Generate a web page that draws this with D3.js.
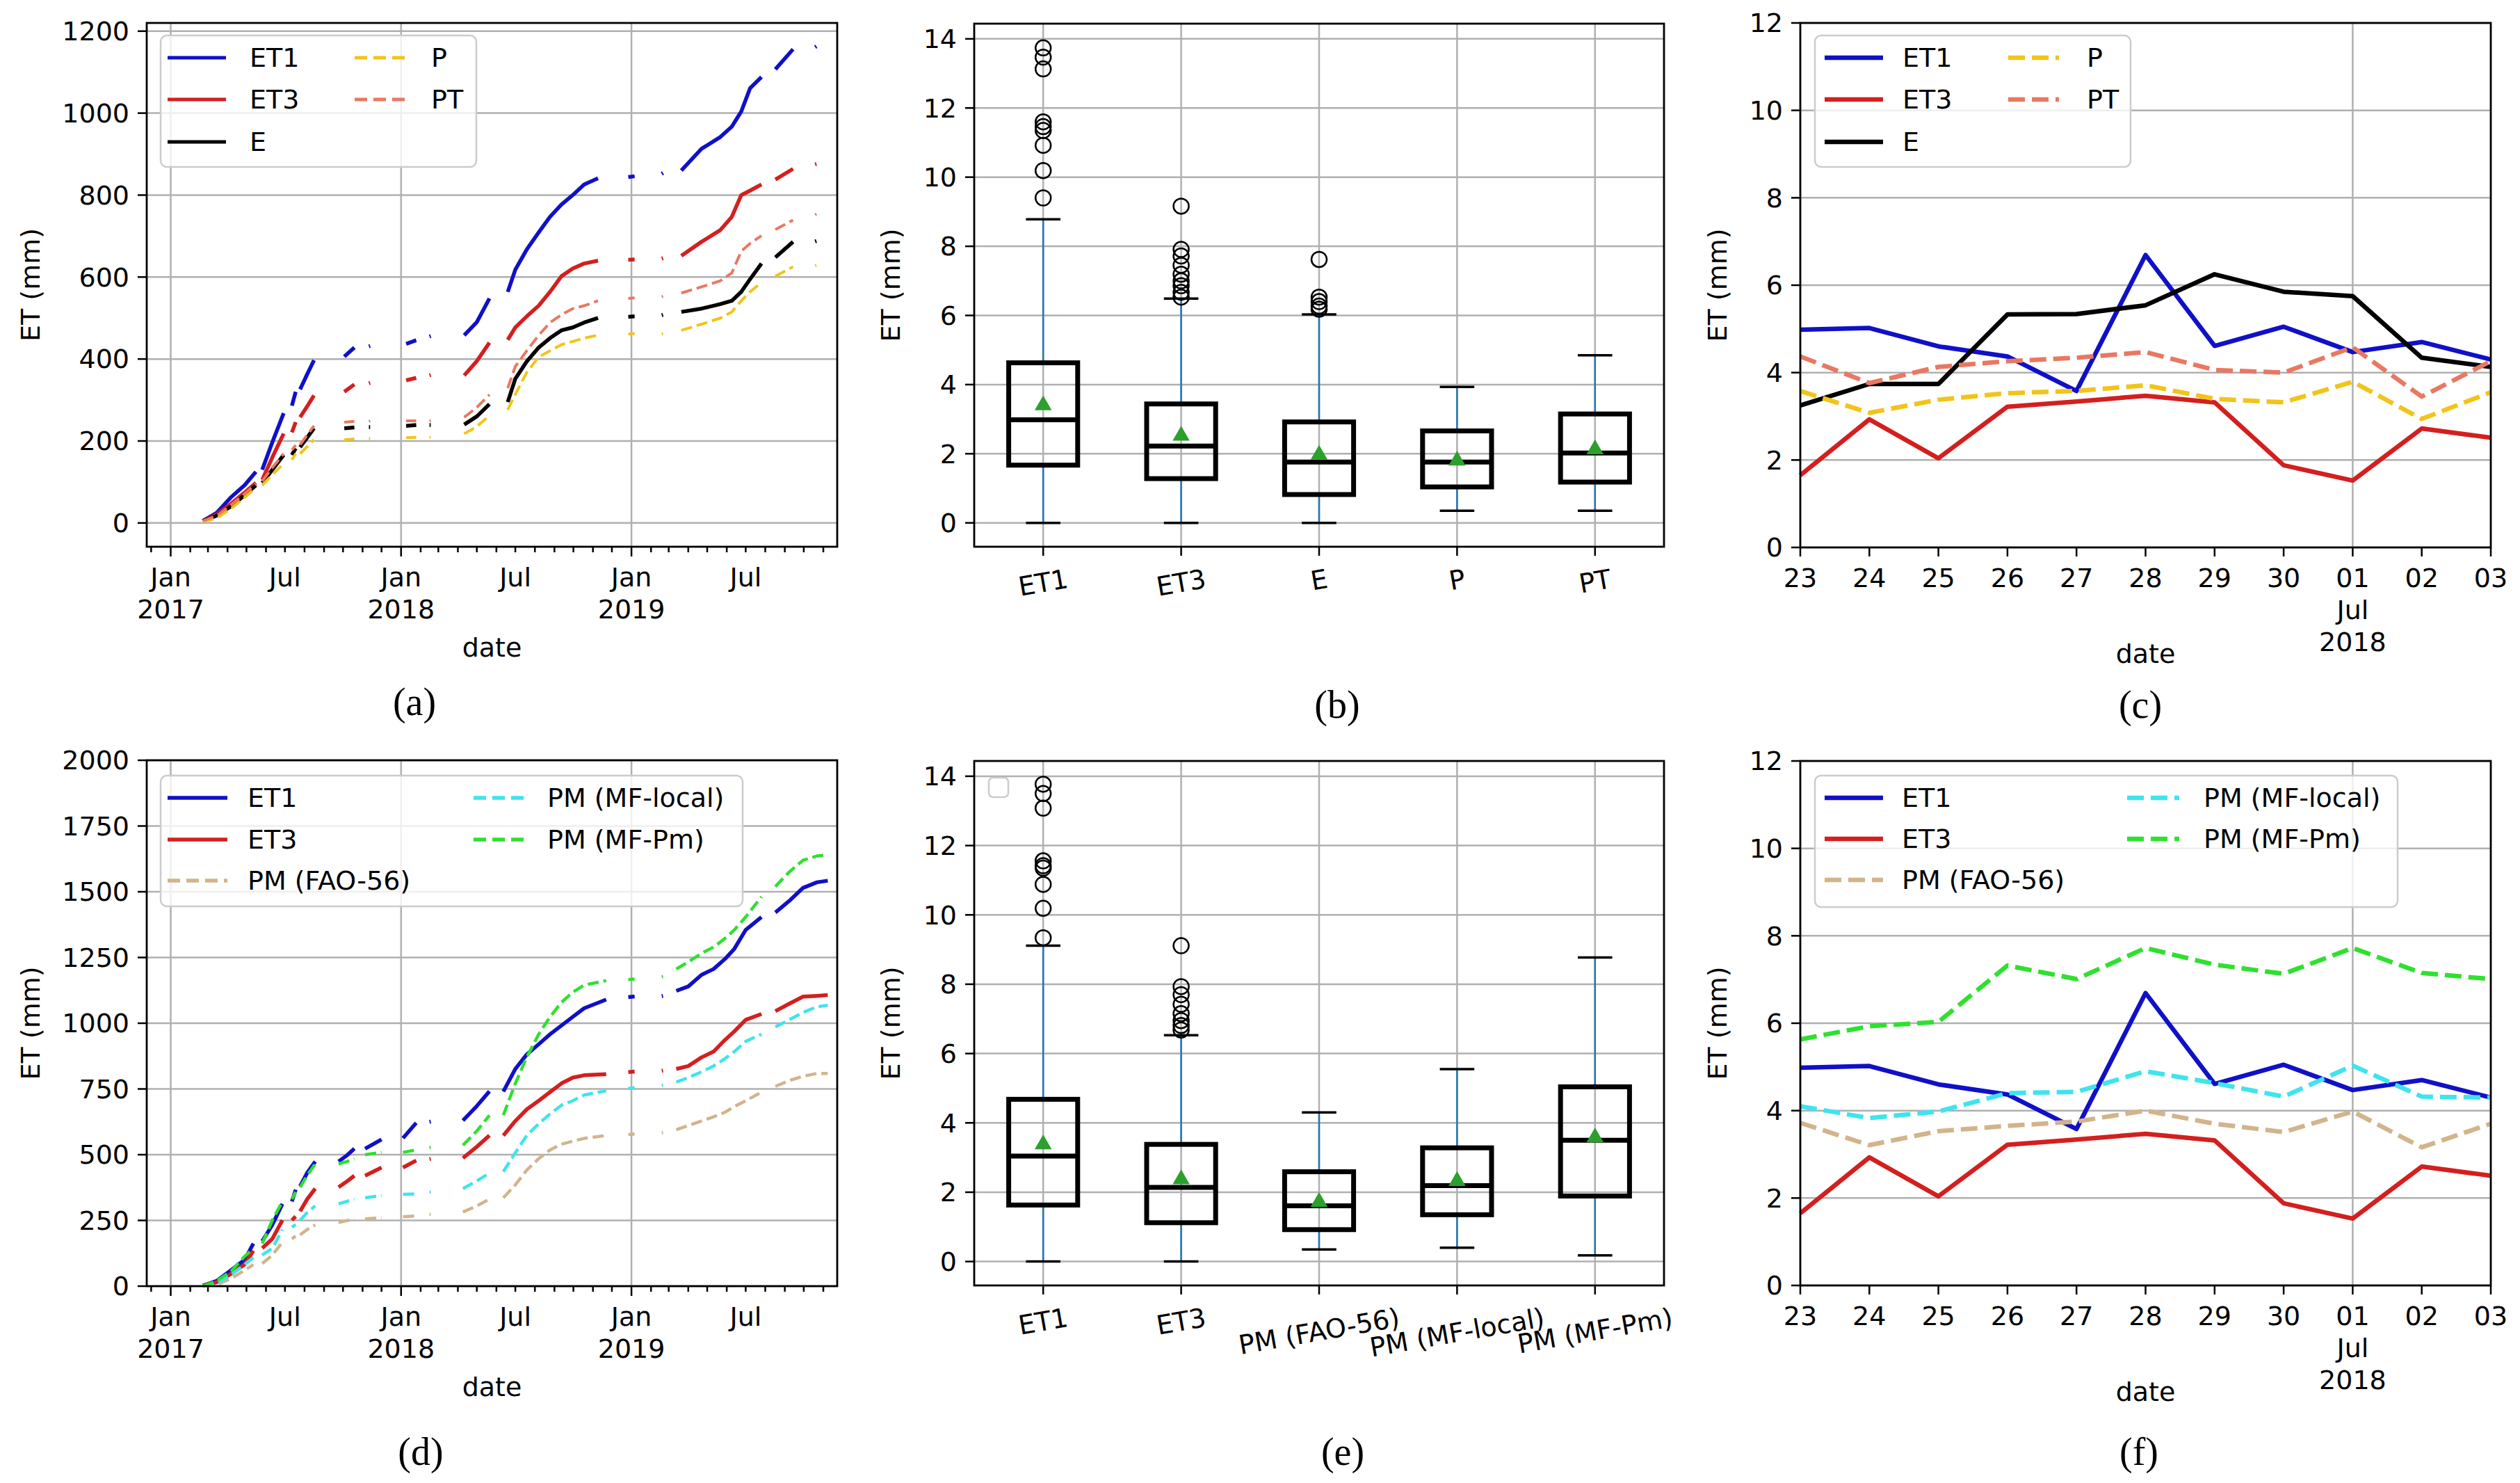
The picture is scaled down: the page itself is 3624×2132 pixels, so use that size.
<!DOCTYPE html>
<html><head><meta charset="utf-8">
<script src="https://cdn.jsdelivr.net/npm/d3@7"></script>
<style>body{margin:0;background:#fff}</style>
</head><body>
<script>
// ---------------- DATA ----------------
// Panel (a): cumulative ET, dates with null = data gap
const datesA = [
"2017-02-21","2017-03-15","2017-04-06","2017-04-28","2017-05-16",null,
"2017-05-26","2017-06-11","2017-06-29",null,
"2017-07-12","2017-07-18",null,
"2017-07-25","2017-08-05","2017-08-16",null,
"2017-10-03","2017-10-19",null,
"2017-11-11","2017-11-13",null,
"2018-01-09","2018-01-25",null,
"2018-02-15","2018-02-17",null,
"2018-04-11","2018-05-01","2018-05-21",null,
"2018-06-19","2018-07-01","2018-07-19","2018-08-07","2018-08-25","2018-09-12","2018-09-30","2018-10-18","2018-11-09",null,
"2018-12-27","2019-01-06",null,
"2019-02-18","2019-02-20",null,
"2019-03-21","2019-04-22","2019-05-22","2019-06-09","2019-06-24","2019-07-08","2019-07-26",null,
"2019-08-17","2019-09-14",null,
"2019-10-19","2019-10-21"];
const a_ET1 = [5,25,62,92,125,null, 130,197,268,null, 286,320,null, 326,362,397,null, 406,428,null, 431,432,null, 437,446,null, 455,456,null, 458,490,548,null, 564,618,667,709,747,777,800,826,841,null, 844,846,null, 852,854,null, 860,913,942,967,1004,1061,1088,null, 1107,1156,null, 1161,1163];
const a_ET3 = [5,21,46,74,98,null, 105,160,218,null, 221,246,null, 258,284,311,null, 320,338,null, 341,342,null, 348,354,null, 360,361,null, 360,395,440,null, 447,477,504,530,564,602,621,633,640,null, 642,643,null, 645,646,null, 652,686,715,747,800,811,826,null, 838,864,null, 875,876];
const a_E   = [5,18,40,68,92,null, 98,130,166,null, 166,182,null, 185,208,231,null, 231,233,null, 234,234,null, 237,239,null, 239,239,null, 240,260,290,null, 295,352,394,428,451,470,477,489,500,null, 503,504,null, 507,508,null, 515,523,534,542,564,595,633,null, 648,686,null, 687,688];
const a_P   = [3,12,34,62,86,null, 92,118,145,null, 154,169,null, 169,186,203,null, 203,205,null, 206,206,null, 208,209,null, 209,209,null, 218,235,262,null, 276,314,367,405,420,435,443,451,458,null, 461,462,null, 461,462,null, 470,485,500,515,542,564,587,null, 602,625,null, 628,629];
const a_PT  = [5,18,43,71,95,null, 102,135,169,null, 178,190,null, 191,214,237,null, 246,248,null, 248,249,null, 249,249,null, 249,250,null, 258,282,313,null, 329,382,420,458,489,508,523,530,542,null, 548,549,null, 552,553,null, 561,576,591,610,663,682,701,null, 716,739,null, 752,754];

// Panel (d)
const datesD = [
"2017-02-21","2017-03-15","2017-04-06","2017-04-28","2017-05-12",null,
"2017-05-26","2017-06-11","2017-06-27",null,
"2017-07-12","2017-07-18",null,
"2017-07-25","2017-08-05","2017-08-18",null,
"2017-09-24","2017-10-07","2017-10-19",null,
"2017-11-05","2017-12-01",null,
"2018-01-04","2018-01-25",null,
"2018-02-15","2018-02-17",null,
"2018-04-09","2018-05-01","2018-05-21",null,
"2018-06-12","2018-07-01","2018-07-19","2018-08-07","2018-08-25","2018-09-12","2018-09-30","2018-10-18","2018-11-22",null,
"2018-12-27","2019-01-06",null,
"2019-02-18","2019-02-20",null,
"2019-03-13","2019-04-01","2019-04-22","2019-05-11","2019-05-29","2019-06-13","2019-07-01","2019-07-26",null,
"2019-08-17","2019-09-08","2019-09-30","2019-10-22","2019-11-08"];
const d_ET1 = [2,20,60,100,162,null, 171,233,313,null, 322,367,null, 380,430,474,null, 474,497,523,null, 523,558,null, 563,621,null, 625,626,null, 630,685,741,null, 740,826,881,920,958,991,1024,1057,1090,null, 1099,1102,null, 1103,1104,null, 1123,1140,1184,1206,1244,1283,1355,1404,null, 1421,1465,1515,1536,1542];
const d_ET3 = [2,15,46,82,135,null, 144,180,251,null, 251,265,null, 285,330,371,null, 376,398,420,null, 420,451,null, 451,478,null, 483,484,null, 487,530,573,null, 573,628,672,705,738,771,793,802,806,null, 814,816,null, 819,820,null, 826,837,870,892,936,969,1013,1035,null, 1046,1074,1101,1104,1107];
const d_FAO = [0,6,28,60,82,null, 86,118,167,null, 180,190,null, 195,215,233,null, 242,249,256,null, 256,260,null, 264,267,null, 273,273,null, 282,305,331,null, 336,385,441,485,518,540,551,562,573,null, 577,579,null, 583,584,null, 595,611,628,644,661,683,705,738,null, 760,782,798,809,809];
const d_MFlocal = [0,11,42,82,109,null, 118,144,215,null, 224,235,null, 250,280,305,null, 313,322,331,null, 336,345,null, 349,351,null, 358,358,null, 371,400,430,null, 435,507,573,617,655,688,705,727,743,null, 752,755,null, 764,765,null, 776,793,815,837,865,892,931,958,null, 986,1013,1041,1063,1068];
const d_MFPm = [0,20,55,113,144,null, 162,251,322,null, 331,358,null, 376,420,465,null, 465,474,483,null, 500,509,null, 509,518,null, 527,528,null, 536,590,650,null, 650,771,870,958,1024,1079,1118,1145,1162,null, 1166,1168,null, 1177,1178,null, 1206,1233,1266,1289,1322,1355,1404,1481,null, 1520,1575,1620,1636,1640];

// Panels (c) and (f): daily ET, 23 Jun - 03 Jul 2018
const daysC = ["2018-06-23","2018-06-24","2018-06-25","2018-06-26","2018-06-27","2018-06-28","2018-06-29","2018-06-30","2018-07-01","2018-07-02","2018-07-03"];
const c_ET1 = [4.98,5.02,4.60,4.37,3.58,6.69,4.61,5.05,4.47,4.70,4.30];
const c_ET3 = [1.65,2.93,2.04,3.22,3.34,3.47,3.32,1.88,1.53,2.72,2.51];
const c_E   = [3.25,3.74,3.74,5.33,5.34,5.54,6.25,5.85,5.75,4.34,4.13];
const c_P   = [3.58,3.08,3.38,3.53,3.58,3.71,3.40,3.32,3.79,2.94,3.55];
const c_PT  = [4.37,3.76,4.13,4.26,4.34,4.47,4.06,4.00,4.58,3.45,4.26];
const f_FAO = [3.72,3.21,3.53,3.65,3.75,4.00,3.70,3.51,3.98,3.16,3.70];
const f_MFlocal = [4.10,3.83,3.98,4.40,4.43,4.90,4.63,4.32,5.03,4.32,4.30];
const f_MFPm = [5.63,5.93,6.03,7.32,7.01,7.72,7.34,7.13,7.72,7.15,7.01];

// Panels (b) and (e): box statistics [whiskerLow, q1, median, q3, whiskerHigh, mean]
const boxCatsB = ["ET1","ET3","E","P","PT"];
const boxStatsB = [[0,1.67,2.98,4.63,8.78,3.40],[0,1.28,2.22,3.44,6.49,2.52],[0,0.82,1.76,2.92,6.03,1.97],[0.35,1.04,1.76,2.66,3.93,1.80],[0.35,1.18,2.02,3.15,4.85,2.13]];
const boxOutB = [[9.40,10.19,10.92,11.35,11.46,11.60,13.13,13.47,13.74],[6.53,6.67,6.86,7.00,7.19,7.45,7.72,7.91,9.16],[6.18,6.27,6.40,6.53,7.62],[],[]];
const boxCatsE = ["ET1","ET3","PM (FAO-56)","PM (MF-local)","PM (MF-Pm)"];
const boxStatsE = [[0,1.63,3.04,4.68,9.11,3.38],[0,1.12,2.14,3.38,6.53,2.37],[0.35,0.92,1.61,2.59,4.30,1.72],[0.40,1.35,2.19,3.28,5.55,2.32],[0.18,1.89,3.50,5.04,8.77,3.58]];
const boxOutE = [[9.34,10.19,10.88,11.35,11.42,11.56,13.08,13.50,13.77],[6.68,6.81,6.95,7.15,7.42,7.70,7.93,9.11],[],[],[]];

// tick values
const aYTicks = [0,200,400,600,800,1000,1200];
const dYTicks = [0,250,500,750,1000,1250,1500,1750,2000];
const cYTicks = [0,2,4,6,8,10,12];
const boxYTicks = [0,2,4,6,8,10,12,14];

// ---------------- DRAWING ----------------
const W=3624,H=2132, FS=38, GRID="#b0b0b0";
const COL={ET1:"#1010c8",ET3:"#d41f1f",E:"#000000",P:"#f2c41a",PT:"#e97862",FAO:"#d2b48c",MFL:"#3ee4ee",MFP:"#2fe02f"};
const parse=d3.timeParse("%Y-%m-%d");
const svg=d3.select("body").append("svg").attr("width",W).attr("height",H)
  .style("font-family","'DejaVu Sans'");
svg.append("rect").attr("width",W).attr("height",H).attr("fill","#fff");

function hline(g,x0,x1,y,c,w){g.append("line").attr("x1",x0).attr("x2",x1).attr("y1",y).attr("y2",y).attr("stroke",c).attr("stroke-width",w);}
function vline(g,x,y0,y1,c,w){g.append("line").attr("x1",x).attr("x2",x).attr("y1",y0).attr("y2",y1).attr("stroke",c).attr("stroke-width",w);}
function txt(g,s,x,y,anchor,size,fam){return g.append("text").attr("x",x).attr("y",y).attr("text-anchor",anchor||"middle").attr("font-size",size||FS).attr("font-family",fam||"DejaVu Sans").attr("fill","#000").text(s);}

function yAxis(g,y,ticks,L,R){
  ticks.forEach(t=>{const yy=y(t);
    hline(g,L,R,yy,GRID,2.5);
    hline(g,L-13,L,yy,"#000",2.5);
    txt(g,String(t),L-25,yy,"end").attr("dy","0.35em");
  });
}
function yLabel(g,x,yc){ g.append("text").attr("transform",`translate(${x},${yc}) rotate(-90)`).attr("text-anchor","middle").attr("dy","0.35em").attr("font-size",FS).text("ET (mm)"); }
function frame(g,L,R,T,B){ g.append("rect").attr("x",L).attr("y",T).attr("width",R-L).attr("height",B-T).attr("fill","none").attr("stroke","#000").attr("stroke-width",2.8); }
function panelLabel(s,x,y){ txt(svg,s,x,y,"middle",56,"'Liberation Serif'").attr("dy","0.35em"); }

function legend(g,box,cols,rows,items,lw,dash){
  g.append("rect").attr("x",box[0]).attr("y",box[1]).attr("width",box[2]-box[0]).attr("height",box[3]-box[1])
    .attr("rx",9).attr("fill","#fff").attr("fill-opacity",0.8).attr("stroke","#cccccc").attr("stroke-width",2.5);
  items.forEach((it,i)=>{
    const c=cols[it.col], yy=rows[it.row];
    g.append("line").attr("x1",c[0]).attr("x2",c[1]).attr("y1",yy).attr("y2",yy)
      .attr("stroke",it.color).attr("stroke-width",lw).attr("stroke-dasharray",it.dashed?dash:null);
    txt(g,it.label,c[2],yy,"start").attr("dy","0.35em");
  });
}

function tsPanel(o){
  const g=svg.append("g");
  const x=d3.scaleTime().domain(o.xDomain).range([o.L,o.R]);
  const y=d3.scaleLinear().domain(o.yDomain).range([o.B,o.T]);
  yAxis(g,y,o.yTicks,o.L,o.R);
  o.xTicks.forEach(t=>{
    const xx=x(t.date);
    if(t.grid) vline(g,xx,o.T,o.B,GRID,2.5);
    vline(g,xx,o.B,o.B+(t.len||12),"#000",2.5);
    (t.lines||[]).forEach((s,k)=>txt(g,s,xx,o.B+57+46*k,"middle"));
  });
  o.series.forEach(s=>{
    const pts=o.dates.map((d,i)=>({d:d?parse(d):null,v:s.values[i]}));
    const line=d3.line().defined(p=>p.d&&p.v!=null).x(p=>x(p.d)).y(p=>y(p.v));
    g.append("path").attr("d",line(pts)).attr("fill","none").attr("stroke",s.color)
      .attr("stroke-width",s.dashed?o.dlw:o.lw).attr("stroke-dasharray",s.dashed?o.dash:null)
      .attr("stroke-linejoin","round");
  });
  frame(g,o.L,o.R,o.T,o.B);
  yLabel(g,o.yl,(o.T+o.B)/2);
  txt(g,"date",(o.L+o.R)/2,o.B+o.dateDy,"middle");
  legend(g,o.lbox,o.lcols,o.lrows,o.series,o.llw,o.ldash||o.dash);
}

function monthTicks(dom){
  return d3.timeMonth.range(dom[0],dom[1]).map(m=>{
    const mo=m.getMonth();
    if(mo===0) return {date:m,grid:true,len:14,lines:["Jan",String(m.getFullYear())]};
    if(mo===6) return {date:m,len:8,lines:["Jul"]};
    return {date:m,len:8};
  });
}
function dayTicks(days){
  return days.map(s=>{const d=parse(s);
    if(d.getDate()===1) return {date:d,grid:true,len:13,lines:[d3.timeFormat("%d")(d),d3.timeFormat("%b")(d),String(d.getFullYear())]};
    return {date:d,len:13,lines:[d3.timeFormat("%d")(d)]};});
}

const tsDom=[new Date(2016,10,24),new Date(2019,10,23)];
const cDom=[parse(daysC[0]),parse(daysC[daysC.length-1])];

// (a)
tsPanel({L:211,R:1204,T:33,B:786,xDomain:tsDom,yDomain:[-58,1220],yTicks:aYTicks,xTicks:monthTicks(tsDom),
  dates:datesA,lw:5.5,dlw:4,dash:"16,7",ldash:"18,9",llw:5,yl:44,dateDy:158,
  series:[{label:"ET1",values:a_ET1,color:COL.ET1,col:0,row:0},{label:"ET3",values:a_ET3,color:COL.ET3,col:0,row:1},
    {label:"E",values:a_E,color:COL.E,col:0,row:2},{label:"P",values:a_P,color:COL.P,dashed:true,col:1,row:0},
    {label:"PT",values:a_PT,color:COL.PT,dashed:true,col:1,row:1}],
  lbox:[231,51,685,240],lcols:[[241,325,359],[510,590,620]],lrows:[83,143,204]});
// (d)
tsPanel({L:211,R:1204,T:1093,B:1849,xDomain:tsDom,yDomain:[0,2000],yTicks:dYTicks,xTicks:monthTicks(tsDom),
  dates:datesD,lw:5.5,dlw:4.5,dash:"16,7",ldash:"18,9",llw:5.5,yl:44,dateDy:158,
  series:[{label:"ET1",values:d_ET1,color:COL.ET1,col:0,row:0},{label:"ET3",values:d_ET3,color:COL.ET3,col:0,row:1},
    {label:"PM (FAO-56)",values:d_FAO,color:COL.FAO,dashed:true,col:0,row:2},
    {label:"PM (MF-local)",values:d_MFlocal,color:COL.MFL,dashed:true,col:1,row:0},
    {label:"PM (MF-Pm)",values:d_MFPm,color:COL.MFP,dashed:true,col:1,row:1}],
  lbox:[231,1115,1068,1303],lcols:[[241,327,356],[681,753,787]],lrows:[1147,1207,1266]});
// (c)
tsPanel({L:2589,R:3582,T:33,B:787,xDomain:cDom,yDomain:[0,12],yTicks:cYTicks,xTicks:dayTicks(daysC),
  dates:daysC,lw:6.5,dlw:6.5,dash:"24,10",llw:6.5,yl:2470,dateDy:166,
  series:[{label:"ET1",values:c_ET1,color:COL.ET1,col:0,row:0},{label:"ET3",values:c_ET3,color:COL.ET3,col:0,row:1},
    {label:"E",values:c_E,color:COL.E,col:0,row:2},{label:"P",values:c_P,color:COL.P,dashed:true,col:1,row:0},
    {label:"PT",values:c_PT,color:COL.PT,dashed:true,col:1,row:1}],
  lbox:[2610,51,3064,240],lcols:[[2624,2708,2736],[2888,2961,3001]],lrows:[83,143,204]});
// (f)
tsPanel({L:2589,R:3582,T:1094,B:1848,xDomain:cDom,yDomain:[0,12],yTicks:cYTicks,xTicks:dayTicks(daysC),
  dates:daysC,lw:6.5,dlw:6.5,dash:"24,10",llw:6.5,yl:2470,dateDy:166,
  series:[{label:"ET1",values:c_ET1,color:COL.ET1,col:0,row:0},{label:"ET3",values:c_ET3,color:COL.ET3,col:0,row:1},
    {label:"PM (FAO-56)",values:f_FAO,color:COL.FAO,dashed:true,col:0,row:2},
    {label:"PM (MF-local)",values:f_MFlocal,color:COL.MFL,dashed:true,col:1,row:0},
    {label:"PM (MF-Pm)",values:f_MFPm,color:COL.MFP,dashed:true,col:1,row:1}],
  lbox:[2610,1115,3448,1304],lcols:[[2624,2708,2735],[3059,3134,3169]],lrows:[1147,1206,1265]});

// Box panels
function boxPanel(o){
  const g=svg.append("g");
  const n=o.cats.length;
  const x=d3.scaleLinear().domain([0.5,n+0.5]).range([o.L,o.R]);
  const y=d3.scaleLinear().domain([-0.69,14.44]).range([o.B,o.T]);
  yAxis(g,y,boxYTicks,o.L,o.R);
  o.cats.forEach((c,i)=>{
    const xx=x(i+1);
    vline(g,xx,o.T,o.B,GRID,2.5);
    vline(g,xx,o.B,o.B+13,"#000",2.5);
    const t=g.append("text").attr("font-size",FS).attr("text-anchor","middle").attr("dy","0.35em").text(c);
    const w=t.node().getComputedTextLength(), a=10*Math.PI/180, h=FS*1.15;
    const cy=o.B+24+(w*Math.sin(a)+h*Math.cos(a))/2;
    t.attr("transform",`translate(${xx},${cy}) rotate(-10)`);
  });
  const bw=x(1.25)-x(1), cw=x(1.125)-x(1);
  o.stats.forEach((s,i)=>{
    const xx=x(i+1);
    const [wl,q1,md,q3,wh,mn]=s;
    vline(g,xx,y(q1),y(wl),"#1f77b4",2.5);
    vline(g,xx,y(q3),y(wh),"#1f77b4",2.5);
    hline(g,xx-cw,xx+cw,y(wl),"#000",3.5);
    hline(g,xx-cw,xx+cw,y(wh),"#000",3.5);
    g.append("rect").attr("x",xx-bw).attr("y",y(q3)).attr("width",2*bw).attr("height",y(q1)-y(q3))
      .attr("fill","none").attr("stroke","#000").attr("stroke-width",7);
    hline(g,xx-bw,xx+bw,y(md),"#000",7);
    o.out[i].forEach(v=>g.append("circle").attr("cx",xx).attr("cy",y(v)).attr("r",11)
      .attr("fill","none").attr("stroke","#000").attr("stroke-width",2.5));
    g.append("path").attr("d",d3.symbol().type(d3.symbolTriangle).size(260)()).attr("transform",`translate(${xx},${y(mn)})`)
      .attr("fill","#2ca02c");
  });
  frame(g,o.L,o.R,o.T,o.B);
  yLabel(g,o.yl,(o.T+o.B)/2);
  if(o.emptyLegend) g.append("rect").attr("x",1422).attr("y",1118).attr("width",28).attr("height",28).attr("rx",6)
    .attr("fill","#fff").attr("fill-opacity",0.8).attr("stroke","#cccccc").attr("stroke-width",2.5);
}
boxPanel({L:1401,R:2393,T:34,B:786,cats:boxCatsB,stats:boxStatsB,out:boxOutB,yl:1281});
boxPanel({L:1401,R:2393,T:1094,B:1848,cats:boxCatsE,stats:boxStatsE,out:boxOutE,yl:1281,emptyLegend:true});

panelLabel("(a)",596,1008);
panelLabel("(b)",1923,1012);
panelLabel("(c)",3078,1012);
panelLabel("(d)",605,2086);
panelLabel("(e)",1931,2086);
panelLabel("(f)",3076,2086);
</script>
</body></html>
